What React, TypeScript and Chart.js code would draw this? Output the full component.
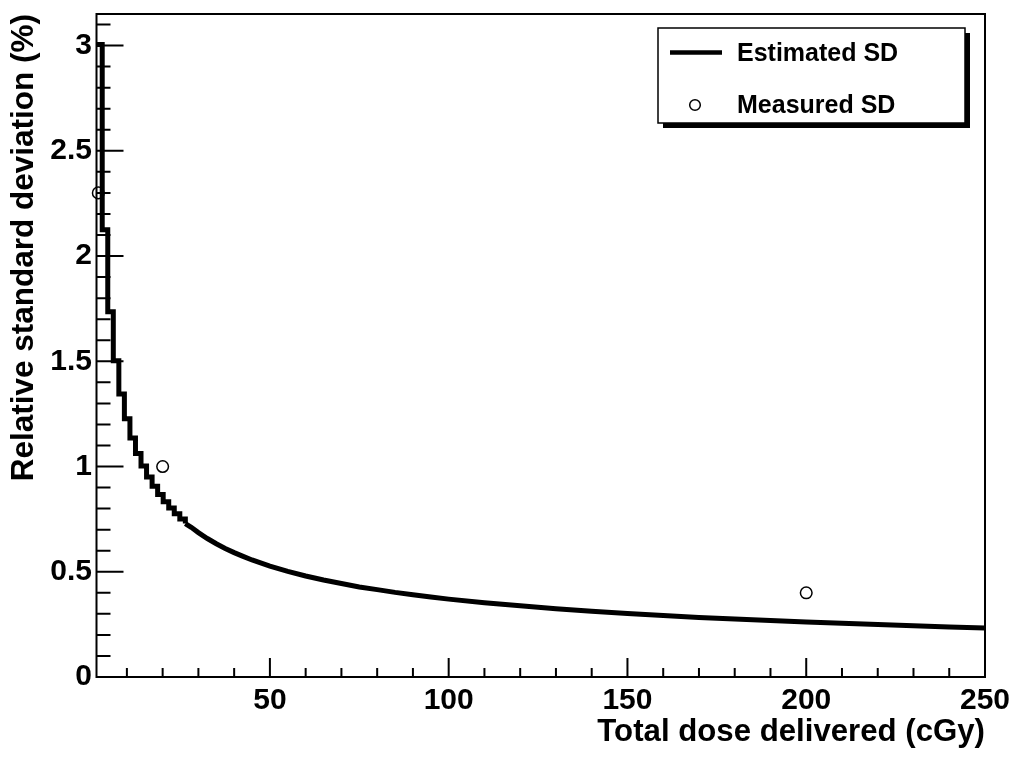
import React, { useEffect, useRef } from "react";
import { Chart, registerables } from "chart.js";

Chart.register(...registerables);

// ---- text ----
const X_TITLE = "Total dose delivered (cGy)";
const Y_TITLE = "Relative standard deviation (%)";
const ESTIMATED_LABEL = "Estimated SD";
const MEASURED_LABEL = "Measured SD";

// ---- axes ----
const X_MIN = 1.5;
const X_MAX = 250;
const Y_MIN = 0;
const Y_MAX = 3.15;
const X_MAJOR_TICKS = [50, 100, 150, 200, 250];
const X_MINOR_TICKS = [10, 20, 30, 40, 60, 70, 80, 90, 110, 120, 130, 140, 160, 170, 180, 190, 210, 220, 230, 240];
const Y_MAJOR_TICKS = [0, 0.5, 1, 1.5, 2, 2.5, 3];
const Y_MINOR_TICKS = [0.1, 0.2, 0.3, 0.4, 0.6, 0.7, 0.8, 0.9, 1.1, 1.2, 1.3, 1.4, 1.6, 1.7, 1.8, 1.9, 2.1, 2.2, 2.3, 2.4, 2.6, 2.7, 2.8, 2.9, 3.1];

// ---- estimated SD: stepped part (low dose); each value holds until the next dose ----
const STEP_DOSE = [1.5, 3.1, 4.65, 6.2, 7.75, 9.3, 10.85, 12.4, 13.95, 15.5, 17.05, 18.6, 20.15, 21.7, 23.25, 24.8, 26.35];
const STEP_SD = [3.005, 2.125, 1.735, 1.502, 1.344, 1.227, 1.136, 1.062, 1.002, 0.95, 0.906, 0.867, 0.833, 0.803, 0.776, 0.751, 0.729];

// ---- estimated SD: smooth part (higher dose) ----
const SMOOTH_DOSE = [26.35, 28, 30, 32.5, 35, 37.5, 40, 42.5, 45, 50, 55, 60, 65, 70, 75, 80, 85, 90, 95, 100, 110, 120, 130, 140, 150, 160, 170, 180, 190, 200, 210, 220, 230, 240, 250];
const SMOOTH_SD = [0.729, 0.711, 0.686, 0.658, 0.633, 0.611, 0.591, 0.573, 0.556, 0.527, 0.502, 0.48, 0.461, 0.444, 0.428, 0.415, 0.402, 0.391, 0.38, 0.37, 0.353, 0.338, 0.324, 0.312, 0.302, 0.292, 0.283, 0.275, 0.268, 0.261, 0.255, 0.249, 0.243, 0.238, 0.233];

// ---- measured SD ----
const MEASURED_DOSE = [2, 20, 200];
const MEASURED_SD = [2.3, 1.0, 0.4];

const FONT_FAMILY = "'Liberation Sans', Arial, Helvetica, sans-serif";

const rootStylePlugin = {
  id: "rootStyle",
  beforeDraw(chart: any) {
    const { ctx, width, height } = chart;
    ctx.save();
    ctx.fillStyle = "#ffffff";
    ctx.fillRect(0, 0, width, height);
    ctx.restore();
  },
  beforeDatasetsDraw(chart: any) {
    const { ctx, chartArea } = chart;
    const xs = chart.scales.x;
    const ys = chart.scales.y;
    ctx.save();
    ctx.strokeStyle = "#000";
    ctx.lineWidth = 2;
    ctx.beginPath();
    const tick = (len: number) => (v: number) => {
      const py = ys.getPixelForValue(v);
      ctx.moveTo(chartArea.left, py);
      ctx.lineTo(chartArea.left + len, py);
    };
    Y_MAJOR_TICKS.forEach(tick(27));
    Y_MINOR_TICKS.forEach(tick(14));
    const xtick = (len: number) => (v: number) => {
      const px = xs.getPixelForValue(v);
      ctx.moveTo(px, chartArea.bottom);
      ctx.lineTo(px, chartArea.bottom - len);
    };
    X_MAJOR_TICKS.forEach(xtick(19));
    X_MINOR_TICKS.forEach(xtick(9));
    ctx.stroke();
    ctx.restore();
  },
  afterDraw(chart: any) {
    const { ctx, chartArea } = chart;
    ctx.save();
    // frame
    ctx.strokeStyle = "#000";
    ctx.lineWidth = 2;
    ctx.strokeRect(chartArea.left, chartArea.top, chartArea.right - chartArea.left, chartArea.bottom - chartArea.top);

    // legend (ROOT style with shadow)
    const lx = chartArea.right - 327;
    const ly = chartArea.top + 14;
    const lw = 307;
    const lh = 95;
    ctx.fillStyle = "#000";
    ctx.fillRect(lx + 5, ly + 5, lw, lh);
    ctx.fillStyle = "#fff";
    ctx.fillRect(lx, ly, lw, lh);
    ctx.lineWidth = 1.5;
    ctx.strokeRect(lx, ly, lw, lh);

    // entry 1: line
    ctx.beginPath();
    ctx.lineWidth = 4.5;
    ctx.moveTo(lx + 12, ly + 24.5);
    ctx.lineTo(lx + 64, ly + 24.5);
    ctx.stroke();
    // entry 2: open circle
    ctx.beginPath();
    ctx.lineWidth = 1.5;
    ctx.arc(lx + 37, ly + 77, 5.3, 0, Math.PI * 2);
    ctx.stroke();

    ctx.fillStyle = "#000";
    ctx.font = `bold 25px ${FONT_FAMILY}`;
    ctx.textAlign = "left";
    ctx.textBaseline = "alphabetic";
    ctx.fillText(ESTIMATED_LABEL, lx + 79, ly + 33);
    ctx.fillText(MEASURED_LABEL, lx + 79, ly + 85);
    ctx.restore();
  },
};

export default function App() {
  const canvasRef = useRef<HTMLCanvasElement | null>(null);

  useEffect(() => {
    const canvas = canvasRef.current;
    if (!canvas) return;

    const stepData = STEP_DOSE.map((x, i) => ({ x, y: STEP_SD[i] }));
    const smoothData = SMOOTH_DOSE.map((x, i) => ({ x, y: SMOOTH_SD[i] }));
    const measuredData = MEASURED_DOSE.map((x, i) => ({ x, y: MEASURED_SD[i] }));

    const chart = new Chart(canvas, {
      type: "line",
      data: {
        datasets: [
          {
            label: MEASURED_LABEL,
            data: measuredData,
            showLine: false,
            pointStyle: "circle",
            pointRadius: 5.8,
            pointBorderWidth: 1.5,
            pointBorderColor: "#000",
            pointBackgroundColor: "rgba(0,0,0,0)",
            borderColor: "#000",
            clip: false as any,
          },
          {
            label: ESTIMATED_LABEL,
            data: stepData,
            stepped: "before",
            borderColor: "#000",
            borderWidth: 5,
            borderJoinStyle: "miter",
            pointRadius: 0,
            fill: false,
          },
          {
            label: ESTIMATED_LABEL,
            data: smoothData,
            borderColor: "#000",
            borderWidth: 5,
            pointRadius: 0,
            tension: 0,
            fill: false,
          },
        ],
      },
      options: {
        responsive: false,
        animation: false,
        events: [],
        layout: { padding: { top: 14, right: 35, left: 0, bottom: 0 } },
        plugins: {
          legend: { display: false },
          tooltip: { enabled: false },
        },
        scales: {
          x: {
            type: "linear",
            min: X_MIN,
            max: X_MAX,
            grid: { display: false, drawTicks: false },
            border: { display: false },
            afterBuildTicks: (scale: any) => {
              scale.ticks = X_MAJOR_TICKS.map((v) => ({ value: v }));
            },
            afterFit: (scale: any) => {
              scale.height = 85;
              scale.paddingLeft = 0;
              scale.paddingRight = 0;
            },
            ticks: {
              autoSkip: false,
              maxRotation: 0,
              padding: 6,
              color: "#000",
              font: { family: FONT_FAMILY, size: 30, weight: "bold" },
              callback: (v: any) => String(v),
            },
            title: {
              display: true,
              text: X_TITLE,
              align: "end",
              color: "#000",
              padding: { top: 0, bottom: 10.5 },
              font: { family: FONT_FAMILY, size: 31.2, weight: "bold" },
            },
          },
          y: {
            type: "linear",
            min: Y_MIN,
            max: Y_MAX,
            grid: { display: false, drawTicks: false },
            border: { display: false },
            afterBuildTicks: (scale: any) => {
              scale.ticks = Y_MAJOR_TICKS.map((v) => ({ value: v }));
            },
            afterFit: (scale: any) => {
              scale.width = 96.5;
              scale.paddingTop = 0;
              scale.paddingBottom = 0;
            },
            ticks: {
              autoSkip: false,
              padding: 4.5,
              color: "#000",
              font: { family: FONT_FAMILY, size: 30, weight: "bold" },
              callback: (v: any) => String(v),
            },
            title: {
              display: true,
              text: Y_TITLE,
              align: "end",
              color: "#000",
              padding: { top: 5.5, bottom: 0 },
              font: { family: FONT_FAMILY, size: 31.5, weight: "bold" },
            },
          },
        },
      } as any,
      plugins: [rootStylePlugin],
    });

    return () => {
      chart.destroy();
    };
  }, []);

  return (
    <div style={{ position: "absolute", left: 0, top: 0, width: 1020, height: 762, background: "#fff" }}>
      <canvas ref={canvasRef} width={1020} height={762} style={{ display: "block", width: 1020, height: 762 }} />
    </div>
  );
}
